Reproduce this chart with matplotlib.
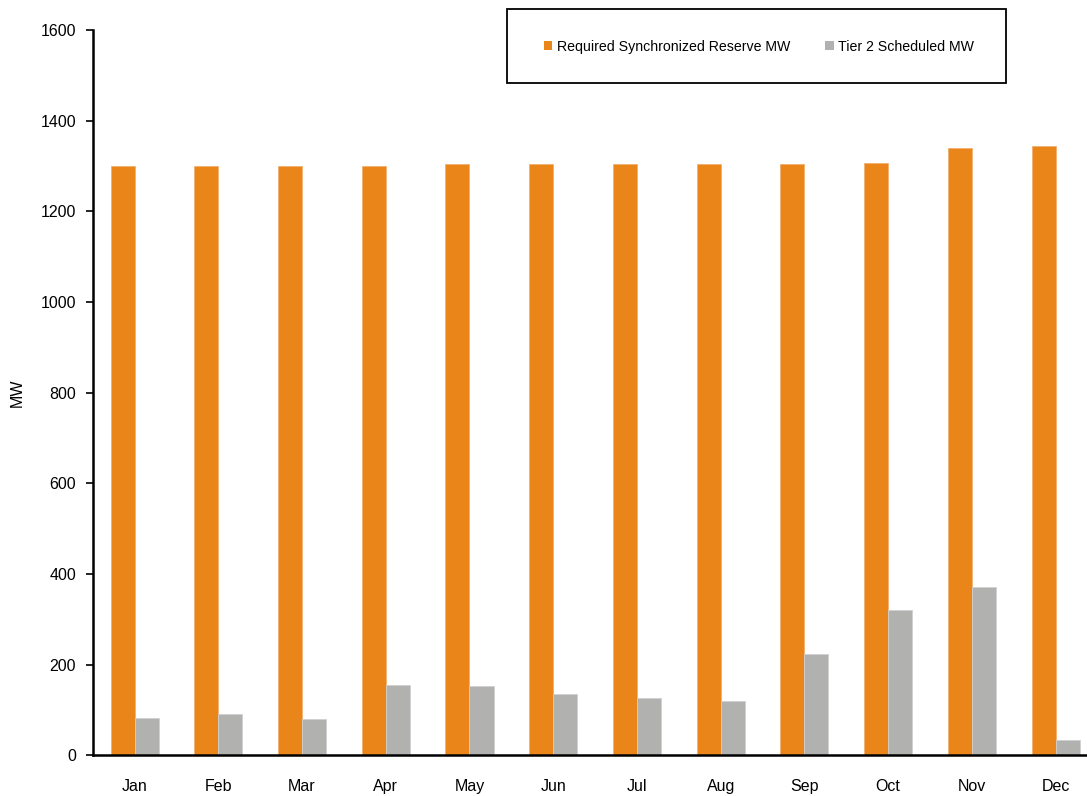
import matplotlib
matplotlib.use("Agg")
import matplotlib.pyplot as plt
from matplotlib.patches import Rectangle, Patch
import numpy as np

plt.rcParams['font.family'] = ['Liberation Sans', 'DejaVu Sans']

months = ["Jan", "Feb", "Mar", "Apr", "May", "Jun",
          "Jul", "Aug", "Sep", "Oct", "Nov", "Dec"]
required_mw = [1300, 1300, 1300, 1300, 1304, 1305,
               1305, 1305, 1305, 1306, 1339, 1344]
tier2_mw = [82, 92, 79, 155, 153, 135,
            127, 119, 224, 320, 371, 33]

orange = "#EA8619"
gray = "#B1B1B0"

W, H = 1087, 796
fig = plt.figure(figsize=(W / 100, H / 100), dpi=100)

left_px, right_px, top_px, bottom_px = 92.7, 1087, 30, 755.3
ax = fig.add_axes([left_px / W, 1 - bottom_px / H,
                   (right_px - left_px) / W, (bottom_px - top_px) / H])

x = np.arange(len(months))
bw = 0.287
ax.bar(x - bw / 2, required_mw, width=bw, color=orange,
       edgecolor="#F2B070", linewidth=0.6)
ax.bar(x + bw / 2, tier2_mw, width=bw, color=gray,
       edgecolor="#D0D0D0", linewidth=0.6)

ax.set_ylim(0, 1600)
ax.set_yticks(range(0, 1601, 200))
ax.set_xlim(-0.5, -0.5 + (right_px - left_px) / 83.73)
ax.set_xticks(x)
ax.set_xticklabels(months)
ax.tick_params(axis='x', length=0, pad=17, labelsize=11.5)
ax.tick_params(axis='y', length=5, width=1.2, direction='out', pad=7, labelsize=11.5)

for s in ("top", "right"):
    ax.spines[s].set_visible(False)
for s in ("left", "bottom"):
    ax.spines[s].set_linewidth(1.8)
    ax.spines[s].set_color("black")

fig.text(17 / W, 1 - 393 / H, "MW", rotation=90, ha="center", va="center",
         fontsize=11.5)

# legend box
box = Rectangle((506.7 / W, 1 - 83.3 / H), (1006 - 506.7) / W, (83.3 - 9.3) / H,
                transform=fig.transFigure, fill=False, edgecolor="black",
                linewidth=1.3)
fig.patches.append(box)
handles = [Patch(facecolor=orange, edgecolor="none"),
           Patch(facecolor=gray, edgecolor="none")]
fig.legend(handles, ["Required Synchronized Reserve MW", "Tier 2 Scheduled MW"],
           loc="center", bbox_to_anchor=(759 / W, 1 - 46.7 / H), ncol=2,
           frameon=False, fontsize=10.2, handlelength=0.6, handleheight=0.6,
           handletextpad=0.3, columnspacing=2.5)

fig.savefig("out.png", dpi=100)
